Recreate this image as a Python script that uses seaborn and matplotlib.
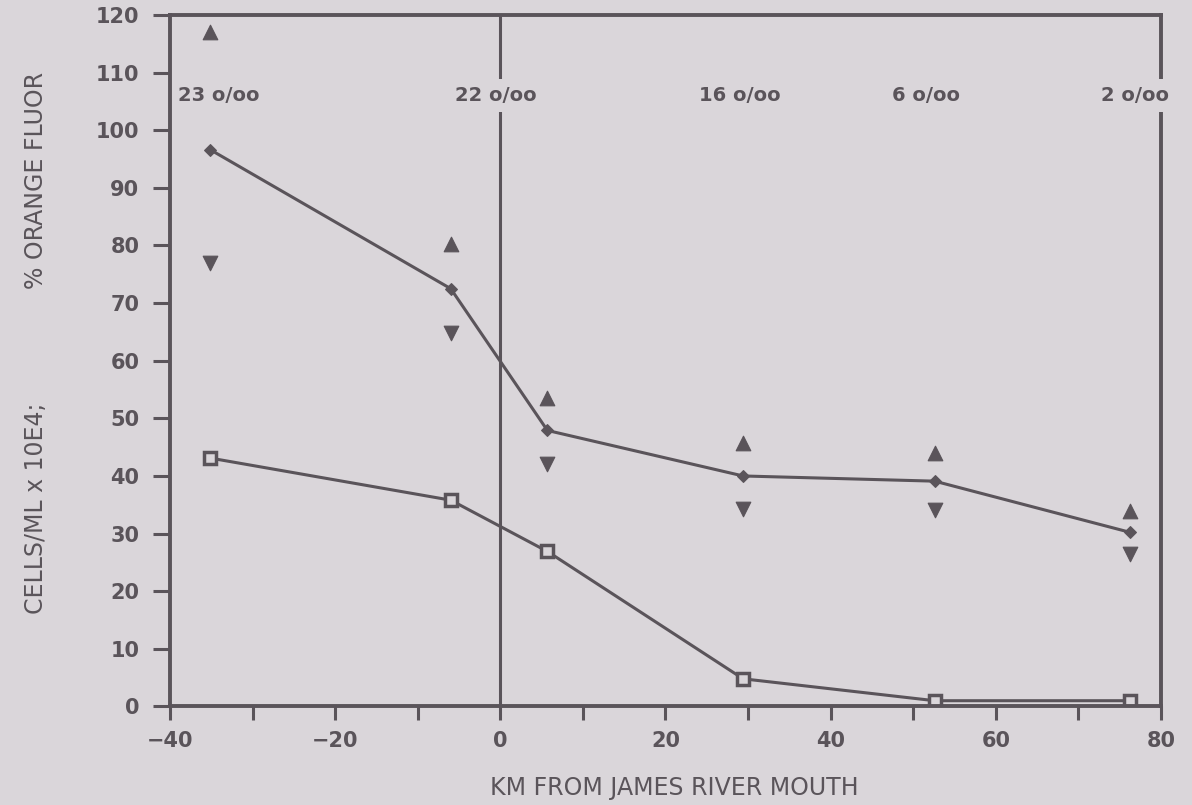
import matplotlib
matplotlib.use("Agg")
import matplotlib.pyplot as plt
import seaborn as sns
import pandas as pd

# Station positions (km from the James River mouth)
km = [-35.1, -6.0, 5.7, 29.4, 52.6, 76.3]
# % orange fluorescence: mean, upper and lower values
orange_mean = [96.6, 72.5, 47.9, 40.0, 39.1, 30.2]
orange_high = [117.0, 80.3, 53.5, 45.8, 43.9, 34.0]
orange_low = [77.0, 64.8, 42.0, 34.2, 34.1, 26.4]
# Cell counts (cells/mL x 10E4)
cells = [43.1, 35.8, 26.9, 4.8, 1.0, 1.0]

# Salinity labels along the top
salinity_labels = ["23 o/oo", "22 o/oo", "16 o/oo", "6 o/oo", "2 o/oo"]
salinity_x = [-39.0, -0.5, 29.0, 51.5, 76.8]
salinity_y = 106

x_ticks = list(range(-40, 81, 20))
x_minor = list(range(-40, 81, 10))
y_ticks = list(range(0, 121, 10))

bg = "#dad6da"
ink = "#5a545a"

sns.set_theme(style="white")
plt.rcParams["font.family"] = ["DejaVu Sans"]

df = pd.DataFrame({"km": km, "mean": orange_mean, "high": orange_high,
                   "low": orange_low, "cells": cells})

fig = plt.figure(figsize=(11.92, 8.05), dpi=100, facecolor=bg)
ax = fig.add_axes([0.1426, 0.1224, 0.8314, 0.859])
ax.set_facecolor(bg)

# vertical reference line at the river mouth
ax.axvline(0, color=ink, lw=2.2, zorder=1)

sns.lineplot(data=df, x="km", y="mean", ax=ax, color=ink, lw=2.2,
             marker="D", markersize=6, markeredgecolor=ink, zorder=2)
sns.lineplot(data=df, x="km", y="cells", ax=ax, color=ink, lw=2.2,
             marker="s", markersize=9, markerfacecolor=bg,
             markeredgecolor=ink, markeredgewidth=2.5, zorder=2)
sns.scatterplot(data=df, x="km", y="high", ax=ax, marker="^", s=110,
                color=ink, edgecolor=ink, zorder=3)
sns.scatterplot(data=df, x="km", y="low", ax=ax, marker="v", s=110,
                color=ink, edgecolor=ink, zorder=3)

for lab, sx in zip(salinity_labels, salinity_x):
    first = lab.startswith("23")
    box = None if first else dict(facecolor=bg, edgecolor="none", pad=5)
    ax.text(sx, salinity_y, lab, ha="left" if first else "center",
            va="center", fontsize=14, fontweight="bold", color=ink,
            zorder=5, clip_on=False, bbox=box)

ax.set_xlim(-40, 80)
ax.set_ylim(0, 120)
ax.set_xticks(x_ticks)
ax.set_xticks(x_minor, minor=True)
ax.set_yticks(y_ticks)
ax.tick_params(axis="both", which="both", direction="out", color=ink,
               width=2.2, labelcolor=ink, labelsize=15, bottom=True, left=True)
ax.tick_params(axis="x", which="both", length=10, pad=8)
ax.tick_params(axis="y", length=12, pad=10)
for t in ax.get_xticklabels() + ax.get_yticklabels():
    t.set_fontweight("bold")

for sp in ax.spines.values():
    sp.set_color(ink)
    sp.set_linewidth(2.8)
    sp.set_visible(True)

ax.set_xlabel("")
ax.set_ylabel("")
fig.text(0.566, 0.021, "KM FROM JAMES RIVER MOUTH", ha="center", va="center",
         fontsize=17, color=ink)
fig.text(0.030, 0.776, "% ORANGE FLUOR", rotation=90, ha="center",
         va="center", fontsize=17, color=ink)
fig.text(0.030, 0.368, "CELLS/ML x 10E4;", rotation=90, ha="center",
         va="center", fontsize=17, color=ink)

fig.savefig("out.png", dpi=100, facecolor=bg)
